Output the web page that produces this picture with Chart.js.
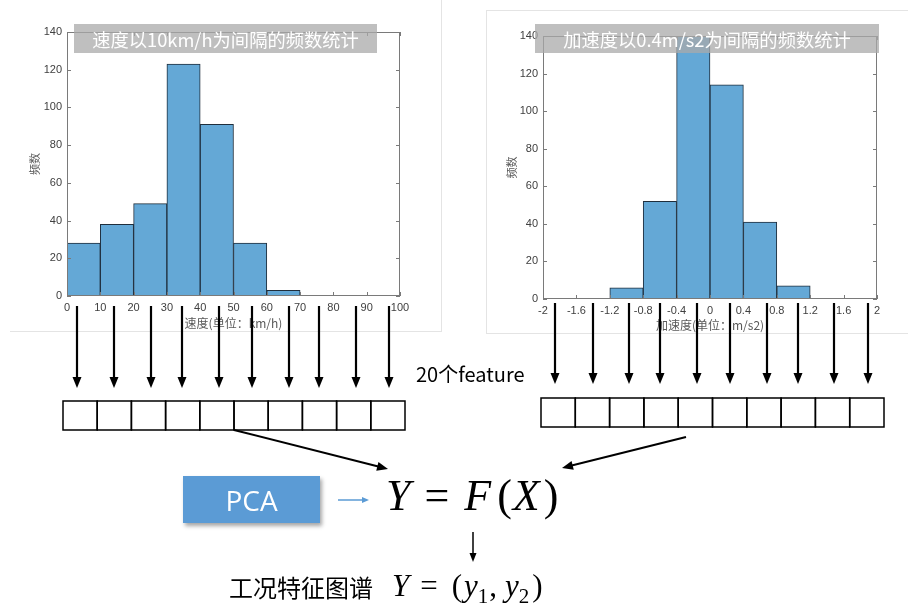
<!DOCTYPE html>
<html>
<head>
<meta charset="utf-8">
<script src="https://cdn.jsdelivr.net/npm/chart.js@4.4.0/dist/chart.umd.min.js"></script>
<style>
body { margin: 0; background: #fff; }
#page { position: relative; width: 908px; height: 606px; overflow: hidden; font-family: "Noto Sans CJK SC", sans-serif; }
.abs { position: absolute; }
.line { position: absolute; background: #e4e4e4; }
.titlebox { position: absolute; height: 29px; background: rgba(170,170,170,0.75); color: #fff; font-size: 18.3px; display: flex; align-items: center; justify-content: center; white-space: nowrap; }
.math { position: absolute; font-family: "Liberation Serif", "DejaVu Serif", serif; white-space: nowrap; line-height: 1; }
.math i { font-style: italic; }
#svg { position: absolute; left: 0; top: 0; }
</style>
</head>
<body>
<div id="page">

    <!-- bords des deux captures -->
    <div class="line" style="left:10px; top:331px; width:432px; height:1px;"></div>
    <div class="line" style="left:441px; top:0; width:1px; height:332px;"></div>
    <div class="line" style="left:486px; top:10px; width:1px; height:323px;"></div>
    <div class="line" style="left:486px; top:10px; width:422px; height:1px;"></div>
    <div class="line" style="left:486px; top:333px; width:422px; height:1px;"></div>

    <div class="abs" style="left:0; top:0; width:441px; height:332px;"><canvas id="vitesse"></canvas></div>
    <div class="abs" style="left:487px; top:11px; width:421px; height:322px;"><canvas id="acceleration"></canvas></div>

    <div class="titlebox" style="left:74px; top:24px; width:303px;">速度以10km/h为间隔的频数统计</div>
    <div class="titlebox" style="left:535px; top:24px; width:344px;">加速度以0.4m/s2为间隔的频数统计</div>

    <svg id="svg" width="908" height="606"></svg>

    <div class="abs" style="left:416px; top:364px; font-size:20px; line-height:20px; color:#000; white-space:nowrap;">20个feature</div>

    <div class="abs" style="left:183px; top:476px; width:137px; height:47px; background:#5b9bd5; box-shadow:2px 3px 4px rgba(0,0,0,0.35); color:#fff; font-family:'Open Sans','Noto Sans',sans-serif; font-size:28px; display:flex; align-items:center; justify-content:center;">PCA</div>

    <div class="math" style="left:386px; top:474px; font-size:44px;"><i>Y</i><span style="margin:0 15px 0 14px;">=</span><i>F</i><span style="margin-left:6px;">(</span><i style="margin-left:1px;">X</i><span style="margin-left:4px;">)</span></div>

    <div class="abs" style="left:229px; top:575px; font-size:24px; line-height:24px; color:#000; white-space:nowrap;">工况特征图谱</div>
    <div class="math" style="left:392px; top:570px; font-size:31px;"><i>Y</i><span style="margin:0 14px 0 11px;">=</span>(<i style="margin-left:2px;">y</i><sub style="font-size:21px;">1</sub><span style="margin-left:1px;">,</span><i style="margin-left:8px;">y</i><sub style="font-size:21px;">2</sub><span style="margin-left:3px;">)</span></div>

</div>

<script>

const vitesseCentres = [5, 15, 25, 35, 45, 55, 65, 75, 85, 95];
const vitesseFrequences = [28, 38, 49, 123, 91, 28, 3, 0, 0, 0];
const vitesseEtiquettes = ['0', '10', '20', '30', '40', '50', '60', '70', '80', '90', '100'];

const accelCentres = [-1.8, -1.4, -1.0, -0.6, -0.2, 0.2, 0.6, 1.0, 1.4, 1.8];
const accelFrequences = [0, 0, 6, 52, 146, 114, 41, 7, 0, 0];
const accelEtiquettes = ['-2', '-1.6', '-1.2', '-0.8', '-0.4', '0', '0.4', '0.8', '1.2', '1.6', '2'];

const frequenceEtiquettes = ['0', '20', '40', '60', '80', '100', '120', '140'];

Chart.defaults.font.family = '"Liberation Sans", Arial, sans-serif';
Chart.defaults.color = '#404040';

// cadre + graduations vers l'intérieur, comme MATLAB
const cadre = {

    id: 'cadre',

    afterDatasetsDraw(chart) {

        const { ctx, chartArea: a, scales: { x, y } } = chart;

        ctx.save();
        ctx.strokeStyle = '#7a7a7a';
        ctx.lineWidth = 1;
        ctx.strokeRect(Math.round(a.left) + 0.5, Math.round(a.top) + 0.5, Math.round(a.width) - 1, Math.round(a.height) - 1);

        ctx.beginPath();
        x.ticks.forEach(t => {
            const px = Math.round(x.getPixelForValue(t.value)) + 0.5;
            ctx.moveTo(px, a.bottom); ctx.lineTo(px, a.bottom - 4);
            ctx.moveTo(px, a.top); ctx.lineTo(px, a.top + 4);
        });
        y.ticks.forEach(t => {
            const py = Math.round(y.getPixelForValue(t.value)) + 0.5;
            ctx.moveTo(a.left, py); ctx.lineTo(a.left + 4, py);
            ctx.moveTo(a.right, py); ctx.lineTo(a.right - 4, py);
        });
        ctx.stroke();
        ctx.restore();

    }

};

function etiquette(liste, valeur) {
    const trouve = liste.find(t => Math.abs(parseFloat(t) - valeur) < 1e-6);
    return trouve === undefined ? '' : trouve;
}

function histogramme(canvas, centres, frequences, etiquettesX, xmin, xmax, pas, titreX, reglages) {

    return new Chart(canvas, {

        type: 'bar',
        data: {
            datasets: [
                {
                    data: centres.map((c, i) => ({ x: c, y: frequences[i] })),
                    backgroundColor: '#64a8d6',
                    borderColor: '#1f2e3c',
                    borderWidth: 1,
                    barPercentage: 1,
                    categoryPercentage: 1,
                    clip: 0
                }
            ]
        },
        options: {
            responsive: true,
            maintainAspectRatio: false,
            animation: false,
            layout: {
                padding: { left: 0, top: reglages.haut, right: reglages.droite, bottom: 0 }
            },
            plugins: {
                legend: { display: false },
                tooltip: { enabled: false }
            },
            scales: {
                x: {
                    type: 'linear',
                    offset: false,
                    min: xmin,
                    max: xmax,
                    grid: { display: false, drawTicks: false },
                    border: { display: false },
                    ticks: {
                        stepSize: pas,
                        autoSkip: false,
                        maxRotation: 0,
                        padding: reglages.padX,
                        font: { size: 11 },
                        callback: v => etiquette(etiquettesX, v)
                    },
                    title: {
                        display: true,
                        text: titreX,
                        color: '#595959',
                        font: { size: 12, family: '"Noto Sans CJK SC", sans-serif' },
                        padding: { top: 0, bottom: reglages.titreX }
                    },
                    afterFit: scale => { scale.height = reglages.hauteurX; }
                },
                y: {
                    min: 0,
                    max: 140,
                    grid: { display: false, drawTicks: false },
                    border: { display: false },
                    ticks: {
                        stepSize: 20,
                        padding: 5,
                        font: { size: 11 },
                        callback: v => etiquette(frequenceEtiquettes, v)
                    },
                    title: {
                        display: true,
                        text: '频数',
                        color: '#595959',
                        font: { size: 11, family: '"Noto Sans CJK SC", sans-serif' },
                        padding: { top: reglages.titreY, bottom: 0 }
                    },
                    afterFit: scale => { scale.width = reglages.largeurY; }
                }
            }
        },
        plugins: [cadre]

    });

}

histogramme(document.querySelector('#vitesse'), vitesseCentres, vitesseFrequences, vitesseEtiquettes, 0, 100, 10,
    '速度(单位：km/h)', { haut: 32, droite: 41, largeurY: 67, hauteurX: 36, padX: 5, titreX: 1, titreY: 28 });

histogramme(document.querySelector('#acceleration'), accelCentres, accelFrequences, accelEtiquettes, -2, 2, 0.4,
    '加速度(单位：m/s2)', { haut: 25, droite: 31, largeurY: 56, hauteurX: 34, padX: 5, titreX: 0, titreY: 18 });

// flèches du schéma
const svg = document.querySelector('#svg');
const NS = 'http://www.w3.org/2000/svg';

function fleche(x1, y1, x2, y2, epaisseur, couleur, longueur, largeur) {

    const dx = x2 - x1, dy = y2 - y1;
    const d = Math.hypot(dx, dy);
    const ux = dx / d, uy = dy / d;
    const bx = x2 - ux * longueur, by = y2 - uy * longueur;

    const ligne = document.createElementNS(NS, 'line');
    ligne.setAttribute('x1', x1); ligne.setAttribute('y1', y1);
    ligne.setAttribute('x2', bx + ux); ligne.setAttribute('y2', by + uy);
    ligne.setAttribute('stroke', couleur); ligne.setAttribute('stroke-width', epaisseur);
    svg.appendChild(ligne);

    const pointe = document.createElementNS(NS, 'polygon');
    const px = -uy * largeur / 2, py = ux * largeur / 2;
    pointe.setAttribute('points', `${x2},${y2} ${bx + px},${by + py} ${bx - px},${by - py}`);
    pointe.setAttribute('fill', couleur);
    svg.appendChild(pointe);

}

function rangee(x, y, largeurCase, hauteur, n) {
    for (let i = 0; i < n; i++) {
        const r = document.createElementNS(NS, 'rect');
        r.setAttribute('x', x + i * largeurCase); r.setAttribute('y', y);
        r.setAttribute('width', largeurCase); r.setAttribute('height', hauteur);
        r.setAttribute('fill', 'none'); r.setAttribute('stroke', '#000'); r.setAttribute('stroke-width', 1.5);
        svg.appendChild(r);
    }
}

[77, 114, 151, 182, 219, 252, 289, 319, 356, 389].forEach(x => fleche(x, 306, x, 388, 2.2, '#000', 11, 9));
[555, 593, 629, 660, 697, 730, 767, 798, 834, 868].forEach(x => fleche(x, 303, x, 384, 2.2, '#000', 11, 9));

rangee(63, 401, 34.2, 29, 10);
rangee(541, 398, 34.3, 29, 10);

fleche(234, 430, 388, 469, 2, '#000', 11, 9);
fleche(686, 437, 562, 468, 2, '#000', 11, 9);
fleche(338, 500, 369, 500, 1.5, '#5b9bd5', 7, 6);
fleche(473, 532, 473, 562, 1.5, '#000', 9, 7);

</script>
</body>
</html>
